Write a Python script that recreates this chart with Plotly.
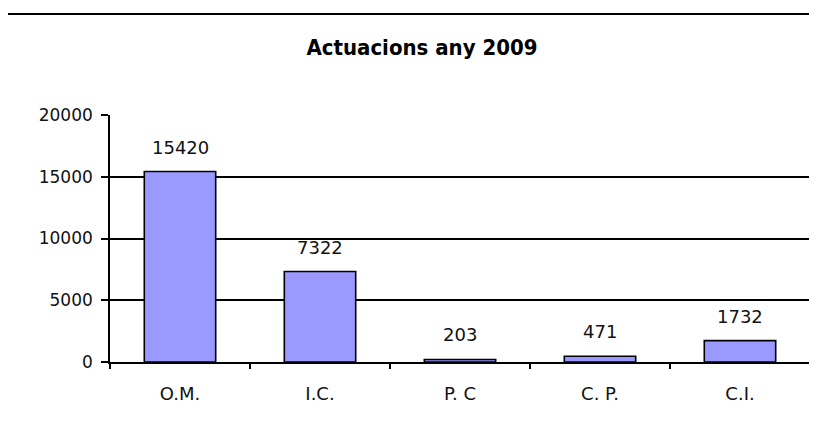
import plotly.graph_objects as go

categories = ["O.M.", "I.C.", "P. C", "C. P.", "C.I."]
values = [15420, 7322, 203, 471, 1732]
y_ticks = [0, 5000, 10000, 15000, 20000]
title_text = "Actuacions any 2009"

# The page body adds an 8px offset; figure coordinates = reference - 8
OFF = 8
W, H = 817, 428
L, T = 110 - OFF, 115 - OFF
plot_right, plot_bottom = 810 - OFF, 362 - OFF
R, B = W - plot_right, H - plot_bottom
pw = plot_right - L
ph = plot_bottom - T

fig = go.Figure()
fig.add_trace(go.Bar(
    x=categories, y=values, width=0.51,
    marker=dict(color="#9999FF", line=dict(color="#000000", width=1.6)),
    hoverinfo="x+y",
))

for c, v in zip(categories, values):
    fig.add_annotation(x=c, y=v, text=str(v), showarrow=False,
                       yanchor="bottom", yshift=12,
                       font=dict(family="DejaVu Sans, sans-serif", size=18, color="#111111"))

fig.update_layout(
    width=W, height=H,
    margin=dict(l=L, r=R, t=T, b=B),
    paper_bgcolor="white", plot_bgcolor="white",
    showlegend=False,
    title=dict(text="<b>" + title_text + "</b>", x=(422 - OFF) / W, xref="container", xanchor="center",
               y=1 - (47 - OFF) / H, yref="container", yanchor="middle",
               font=dict(family="Liberation Sans Narrow, DejaVu Sans Condensed, sans-serif", size=22, color="#000000")),
    xaxis=dict(showline=True, linecolor="#000000", linewidth=1.6,
               ticks="outside", tickson="boundaries", ticklen=5, tickwidth=1.6, tickcolor="#000000",
               ticklabelstandoff=15,
               tickfont=dict(family="DejaVu Sans, sans-serif", size=18, color="#111111"),
               showgrid=False, fixedrange=True),
    yaxis=dict(range=[0, 20000], tickvals=y_ticks, ticktext=[str(t) for t in y_ticks],
               showline=True, linecolor="#000000", linewidth=1.6,
               ticks="outside", ticklen=7, tickwidth=1.6, tickcolor="#000000",
               ticklabelstandoff=5,
               tickfont=dict(family="DejaVu Sans, sans-serif", size=17, color="#111111"),
               showgrid=True, gridcolor="#000000", gridwidth=1.6,
               zeroline=False, fixedrange=True),
)

fig.add_shape(type="line", xref="paper", yref="paper",
              x0=(8 - OFF - L) / pw, x1=(W - L) / pw,
              y0=(plot_bottom - (14 - OFF)) / ph, y1=(plot_bottom - (14 - OFF)) / ph,
              line=dict(color="#000000", width=2.2))

fig.write_html("out.html")
